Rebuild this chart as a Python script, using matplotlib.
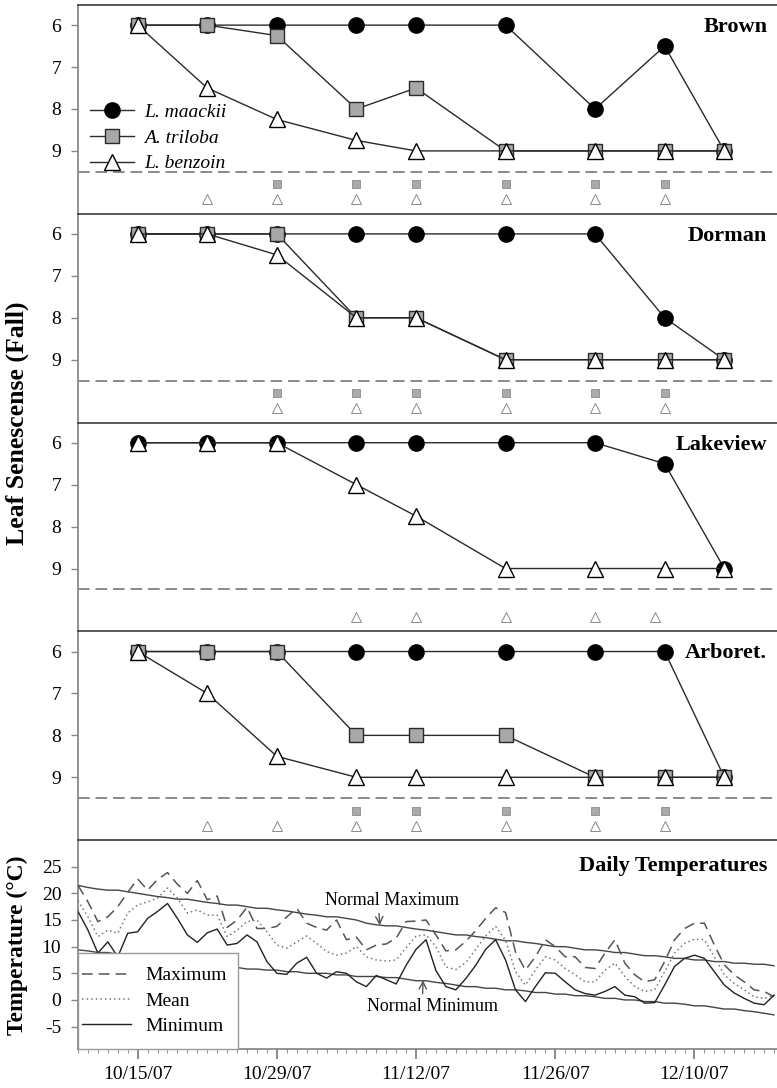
import matplotlib
matplotlib.use('Agg')
import matplotlib.pyplot as plt
import matplotlib.dates as mdates
from matplotlib.patches import Rectangle
from datetime import datetime, timedelta

plt.rcParams['font.family'] = ['Liberation Serif', 'DejaVu Serif']
plt.rcParams['axes.unicode_minus'] = False

# ---------------- data ----------------
survey_dates = ['2007-10-15', '2007-10-22', '2007-10-29', '2007-11-06', '2007-11-12',
                '2007-11-21', '2007-11-30', '2007-12-07', '2007-12-13']

brown_maackii = [6, 6, 6, 6, 6, 6, 8, 6.5, 9]
brown_triloba = [6, 6, 6.25, 8, 7.5, 9, 9, 9, 9]
brown_benzoin = [6, 7.5, 8.25, 8.75, 9, 9, 9, 9, 9]

dorman_maackii = [6, 6, 6, 6, 6, 6, 6, 8, 9]
dorman_triloba = [6, 6, 6, 8, 8, 9, 9, 9, 9]
dorman_benzoin = [6, 6, 6.5, 8, 8, 9, 9, 9, 9]

lakeview_maackii = [6, 6, 6, 6, 6, 6, 6, 6.5, 9]
lakeview_benzoin = [6, 6, 6, 7, 7.75, 9, 9, 9, 9]

arboret_maackii = [6, 6, 6, 6, 6, 6, 6, 6, 9]
arboret_triloba = [6, 6, 6, 8, 8, 8, 9, 9, 9]
arboret_benzoin = [6, 7, 8.5, 9, 9, 9, 9, 9, 9]

# dates where species differ significantly (significance markers)
brown_sig_triloba = ['2007-10-29', '2007-11-06', '2007-11-12', '2007-11-21', '2007-11-30', '2007-12-07']
brown_sig_benzoin = ['2007-10-22', '2007-10-29', '2007-11-06', '2007-11-12', '2007-11-21', '2007-11-30', '2007-12-07']
dorman_sig_triloba = ['2007-10-29', '2007-11-06', '2007-11-12', '2007-11-21', '2007-11-30', '2007-12-07']
dorman_sig_benzoin = ['2007-10-29', '2007-11-06', '2007-11-12', '2007-11-21', '2007-11-30', '2007-12-07']
lakeview_sig_triloba = []
lakeview_sig_benzoin = ['2007-11-06', '2007-11-12', '2007-11-21', '2007-11-30', '2007-12-06']
arboret_sig_triloba = ['2007-11-06', '2007-11-12', '2007-11-21', '2007-11-30', '2007-12-07']
arboret_sig_benzoin = ['2007-10-22', '2007-10-29', '2007-11-06', '2007-11-12', '2007-11-21', '2007-11-30', '2007-12-07']

site_names = ['Brown', 'Dorman', 'Lakeview', 'Arboret.']
species_names = ['L. maackii', 'A. triloba', 'L. benzoin']

# daily temperatures (deg C), 2007-10-09 .. 2007-12-18
temp_start = '2007-10-09'
temp_max = [21.5, 18.4, 14.7, 15.6, 17.5, 20.2, 22.7, 20.6, 22.6, 23.9,
            21.7, 20.0, 22.4, 18.8, 19.5, 13.6, 15.0, 17.4, 13.4, 13.4,
            13.8, 15.6, 17.2, 14.4, 13.6, 13.1, 15.0, 11.3, 11.8, 9.4,
            10.3, 10.5, 11.6, 14.7, 14.8, 15.0, 12.2, 9.2, 9.4, 11.0,
            13.0, 15.3, 17.3, 16.4, 9.0, 5.6, 8.1, 11.3, 10.0, 8.1,
            8.1, 6.1, 5.9, 8.8, 11.3, 6.9, 4.7, 3.4, 3.8, 7.2,
            11.3, 13.4, 14.4, 14.4, 10.3, 6.6, 4.7, 3.4, 1.9, 1.6, 0.6]
temp_mean = [18.6, 15.6, 11.9, 13.1, 12.5, 16.3, 17.8, 18.4, 19.1, 21.0,
             19.1, 16.3, 16.9, 15.9, 15.9, 11.9, 13.1, 14.7, 15.0, 12.8,
             10.3, 9.7, 10.9, 12.0, 10.6, 9.1, 8.4, 8.8, 10.0, 8.1,
             7.5, 7.3, 7.5, 9.8, 12.0, 12.2, 10.0, 6.2, 5.7, 7.0,
             9.5, 12.0, 13.8, 11.2, 5.3, 2.8, 5.6, 8.1, 7.5, 5.9,
             4.7, 3.4, 3.4, 5.6, 6.9, 4.4, 2.5, 1.6, 1.9, 5.3,
             8.8, 10.6, 11.4, 11.3, 8.1, 4.7, 3.1, 1.9, 0.6, 0.3, 0.9]
temp_min = [16.6, 13.1, 8.8, 10.9, 8.1, 12.5, 12.8, 15.3, 16.6, 18.1,
            15.3, 12.2, 10.8, 12.6, 13.3, 10.3, 10.6, 12.2, 10.9, 7.2,
            5.0, 4.8, 6.9, 8.0, 5.0, 4.1, 5.3, 5.0, 3.4, 2.5,
            4.6, 3.8, 3.0, 6.5, 9.5, 11.3, 5.5, 2.5, 1.9, 4.0,
            6.5, 9.5, 11.3, 7.5, 1.9, -0.3, 2.5, 5.1, 5.0, 3.4,
            1.9, 1.2, 0.9, 1.6, 2.5, 0.9, 0.6, -0.6, -0.5, 2.8,
            6.3, 7.8, 8.4, 7.8, 5.3, 2.8, 1.3, 0.3, -0.6, -0.9, 0.9]
normal_max = [21.5, 21.1, 20.8, 20.6, 20.6, 20.3, 20.0, 19.7, 19.4, 19.2,
              18.9, 18.9, 18.6, 18.3, 18.1, 17.8, 17.8, 17.5, 17.2, 17.2,
              16.9, 16.7, 16.4, 16.1, 15.9, 15.6, 15.6, 15.3, 15.0, 14.4,
              14.1, 13.9, 13.9, 13.6, 13.3, 13.1, 12.8, 12.5, 12.2, 12.2,
              11.9, 11.7, 11.4, 11.1, 11.1, 10.8, 10.6, 10.3, 10.0, 10.0,
              9.7, 9.4, 9.4, 9.2, 8.9, 8.9, 8.6, 8.3, 8.3, 8.1,
              7.8, 7.8, 7.5, 7.5, 7.2, 7.2, 6.9, 6.9, 6.7, 6.7, 6.4]
normal_min = [9.4, 9.2, 8.9, 8.9, 8.6, 8.3, 8.1, 8.1, 7.8, 7.5,
              7.2, 7.0, 6.4, 6.4, 6.1, 6.1, 6.1, 5.8, 5.8, 5.6,
              5.6, 5.3, 5.3, 5.0, 5.0, 5.0, 4.7, 4.7, 4.4, 4.4,
              4.4, 4.2, 4.2, 3.9, 3.6, 3.6, 3.3, 3.1, 2.8, 2.5,
              2.5, 2.2, 2.2, 1.9, 1.9, 1.7, 1.4, 1.4, 1.1, 1.1,
              0.8, 0.8, 0.6, 0.3, 0.3, 0.0, 0.0, -0.3, -0.3, -0.6,
              -0.6, -0.8, -1.1, -1.1, -1.4, -1.7, -1.7, -2.0, -2.2, -2.5, -2.8]
temp_labels = ['Maximum', 'Mean', 'Minimum']

xtick_dates = ['2007-10-15', '2007-10-29', '2007-11-12', '2007-11-26', '2007-12-10']
xtick_labels = ['10/15/07', '10/29/07', '11/12/07', '11/26/07', '12/10/07']

# ---------------- helpers ----------------
def d2n(s):
    return mdates.date2num(datetime.strptime(s, '%Y-%m-%d'))

sx = [d2n(s) for s in survey_dates]
t0 = datetime.strptime(temp_start, '%Y-%m-%d')
tx = [mdates.date2num(t0 + timedelta(days=i)) for i in range(len(temp_max))]
xt = [d2n(s) for s in xtick_dates]
xlo = d2n('2007-10-09')
xhi = xlo + 70.3

W, H = 777, 1088
fig = plt.figure(figsize=(W / 100, H / 100), dpi=100)

left_px, right_px = 78, 777
top_px, bottom_px = 5, 1049
ph = (bottom_px - top_px) / 5.0

def make_ax(i):
    top = top_px + i * ph
    rect = [left_px / W, 1 - (top + ph) / H, (right_px - left_px) / W, ph / H]
    return fig.add_axes(rect)

panels = [
    (brown_maackii, brown_triloba, brown_benzoin, brown_sig_triloba, brown_sig_benzoin),
    (dorman_maackii, dorman_triloba, dorman_benzoin, dorman_sig_triloba, dorman_sig_benzoin),
    (lakeview_maackii, None, lakeview_benzoin, lakeview_sig_triloba, lakeview_sig_benzoin),
    (arboret_maackii, arboret_triloba, arboret_benzoin, arboret_sig_triloba, arboret_sig_benzoin),
]

line_col = '#2a2a2a'
for i, (mk, tr, bz, sig_t, sig_b) in enumerate(panels):
    ax = make_ax(i)
    h1, = ax.plot(sx, mk, '-', color=line_col, lw=1.0, marker='o', ms=11,
                  mfc='black', mec='black', zorder=3)
    if tr is not None:
        h2, = ax.plot(sx, tr, '-', color=line_col, lw=1.0, marker='s', ms=10,
                      mfc='#a8a8a8', mec='#2a2a2a', mew=1.0, zorder=4)
    h3, = ax.plot(sx, bz, '-', color=line_col, lw=1.0, marker='^', ms=12,
                  mfc='white', mec='black', mew=1.0, zorder=5)
    ax.axhline(9.5, color='#8a8a8a', lw=1.4, ls=(0, (6, 3)), zorder=1)
    if sig_t:
        ax.plot([d2n(s) for s in sig_t], [9.8] * len(sig_t), 's', ms=6.3,
                mfc='#aaaaaa', mec='#8a8a8a', mew=0.6, zorder=3)
    if sig_b:
        ax.plot([d2n(s) for s in sig_b], [10.15] * len(sig_b), '^', ms=7.3,
                mfc='white', mec='#8a8a8a', mew=0.7, zorder=3)
    ax.set_ylim(10.5, 5.52)
    ax.set_xlim(xlo, xhi)
    ax.set_yticks([6, 7, 8, 9])
    ax.set_xticks(xt)
    ax.set_xticklabels([])
    ax.tick_params(axis='y', direction='out', length=5, width=1, color='#888888',
                   labelsize=14, pad=7)
    ax.tick_params(axis='x', direction='out', length=3, width=1, color='#aaaaaa')
    ax.spines['right'].set_visible(False)
    ax.spines['bottom'].set_visible(False)
    ax.spines['top'].set_color('#3a3a3a')
    ax.spines['top'].set_linewidth(1.2)
    ax.spines['left'].set_color('#8a8a8a')
    ax.spines['left'].set_linewidth(1.3)
    ax.text(0.986, 0.895, site_names[i], transform=ax.transAxes, ha='right',
            va='center', fontsize=16, fontweight='bold')
    if i == 0:
        leg = ax.legend([h1, h2, h3], species_names, loc='upper left',
                        bbox_to_anchor=(0.0, 0.585), frameon=False,
                        prop={'style': 'italic', 'size': 14}, handlelength=2.3,
                        handletextpad=0.5, labelspacing=0.42, borderaxespad=0.2)

# temperature panel
ax = make_ax(4)
lmax, = ax.plot(tx, temp_max, color='#555555', lw=1.1, ls=(0, (7, 4)), zorder=3)
lmean, = ax.plot(tx, temp_mean, color='#777777', lw=1.1, ls=(0, (1, 2)), zorder=3)
lmin, = ax.plot(tx, temp_min, color='#222222', lw=1.0, zorder=3)
ax.plot(tx, normal_max, color='#444444', lw=1.0, zorder=2)
ax.plot(tx, normal_min, color='#444444', lw=1.0, zorder=2)
ax.set_xlim(xlo, xhi)
ax.set_ylim(-9.2, 29.97)
ax.set_yticks([-5, 0, 5, 10, 15, 20, 25])
ax.set_xticks(xt)
ax.set_xticklabels(xtick_labels)
ax.set_xticks(tx, minor=True)
ax.tick_params(axis='y', direction='out', length=5, width=1, color='#888888',
               labelsize=14, pad=7)
ax.tick_params(axis='x', which='major', direction='out', length=7, width=1.2,
               color='#777777', labelsize=14, pad=5)
ax.tick_params(axis='x', which='minor', direction='out', length=3, width=0.8,
               color='#999999')
ax.spines['right'].set_visible(False)
ax.spines['top'].set_color('#3a3a3a')
ax.spines['top'].set_linewidth(1.2)
ax.spines['left'].set_color('#8a8a8a')
ax.spines['left'].set_linewidth(1.3)
ax.spines['bottom'].set_color('#8a8a8a')
ax.spines['bottom'].set_linewidth(1.3)
ax.text(0.986, 0.875, 'Daily Temperatures', transform=ax.transAxes, ha='right',
        va='center', fontsize=16, fontweight='bold')

box_w, box_h = 160 / (right_px - left_px), 96 / ph
ax.add_patch(Rectangle((0, 0), box_w, box_h, transform=ax.transAxes,
                       facecolor='white', edgecolor='#999999', lw=1.0,
                       zorder=9, clip_on=False))
leg2 = ax.legend([lmax, lmean, lmin], temp_labels, loc='center left',
                 bbox_to_anchor=(0.0, 0.0, box_w, box_h), borderaxespad=0.0,
                 frameon=False, fontsize=14, handlelength=2.5,
                 handletextpad=0.75, labelspacing=0.4, borderpad=0.2)
leg2.set_zorder(10)

ax.annotate('Normal Maximum', xy=(xlo + 30.35, 14.0), xytext=(xlo + 31.6, 18.6),
            ha='center', va='center', fontsize=13,
            arrowprops=dict(arrowstyle='->', color='#555555', lw=1.0,
                            relpos=(0.4, 0.0), shrinkA=1, shrinkB=0))
ax.annotate('Normal Minimum', xy=(xlo + 34.7, 3.7), xytext=(xlo + 35.7, -1.2),
            ha='center', va='center', fontsize=13,
            arrowprops=dict(arrowstyle='->', color='#555555', lw=1.0,
                            relpos=(0.42, 1.0), shrinkA=1, shrinkB=0))

fig.text(17 / W, 1 - 423 / H, 'Leaf Senescense (Fall)', rotation=90, ha='center',
         va='center', fontsize=18.5, fontweight='bold')
fig.text(17 / W, 1 - 945 / H, 'Temperature (\u00b0C)', rotation=90, ha='center',
         va='center', fontsize=17, fontweight='bold')

fig.savefig('out.png', dpi=100)
